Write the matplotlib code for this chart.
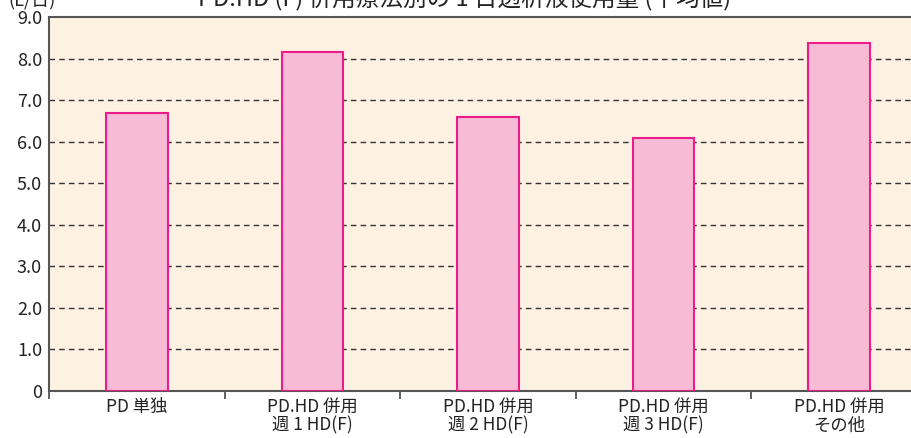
import matplotlib
matplotlib.use("Agg")
import matplotlib.pyplot as plt
import numpy as np

plt.rcParams['font.family'] = ['Noto Sans CJK JP', 'DejaVu Sans']

categories = ["PD 単独", "PD.HD 併用\n週 1 HD(F)", "PD.HD 併用\n週 2 HD(F)", "PD.HD 併用\n週 3 HD(F)", "PD.HD 併用\nその他"]
values = [6.70, 8.15, 6.60, 6.10, 8.37]
yticks = [0, 1, 2, 3, 4, 5, 6, 7, 8, 9]
ytick_labels = ["0", "1.0", "2.0", "3.0", "4.0", "5.0", "6.0", "7.0", "8.0", "9.0"]
title = "PD.HD (F) 併用療法別の 1 日透析液使用量 (平均値)"
unit = "(L/日)"

W, H = 912, 438
fig = plt.figure(figsize=(W / 100, H / 100), dpi=100)
ax = fig.add_axes([49 / W, 47 / H, (927 - 49) / W, (391 - 17) / H])
ax.set_facecolor("#fdf1e2")

x = np.arange(len(categories))
ax.bar(x, values, width=0.35, color="#f7bbd6", edgecolor="#ec1c8c", linewidth=1.5, zorder=3)

ax.set_xlim(-0.5, len(categories) - 0.5)
ax.set_ylim(0, 9)
ax.set_yticks(yticks)
ax.set_yticklabels(ytick_labels, fontsize=13, color="#222222")
ax.tick_params(axis="y", length=0, pad=5)

ax.set_xticks(x)
ax.set_xticklabels(categories, fontsize=12.5, color="#222222", linespacing=1.05)
ax.tick_params(axis="x", which="major", length=0, pad=5)
ax.set_xticks(np.arange(-0.5, len(categories)), minor=True)
ax.tick_params(axis="x", which="minor", length=6, width=1.2, color="#444444", direction="out")

for yv in yticks[1:-1]:
    ax.axhline(yv, color="#333333", linestyle=(0, (4, 3)), linewidth=1.0, zorder=1)

for s in ["left", "bottom", "top"]:
    ax.spines[s].set_color("#555555")
    ax.spines[s].set_linewidth(1.5)
ax.spines["right"].set_visible(False)

fig.text(465 / W, (H - 6) / H, title, ha="center", va="baseline", fontsize=17, color="#222222")
fig.text(8 / W, (H - 6) / H, unit, ha="left", va="baseline", fontsize=13, color="#222222")

fig.savefig("out.png", dpi=100)
